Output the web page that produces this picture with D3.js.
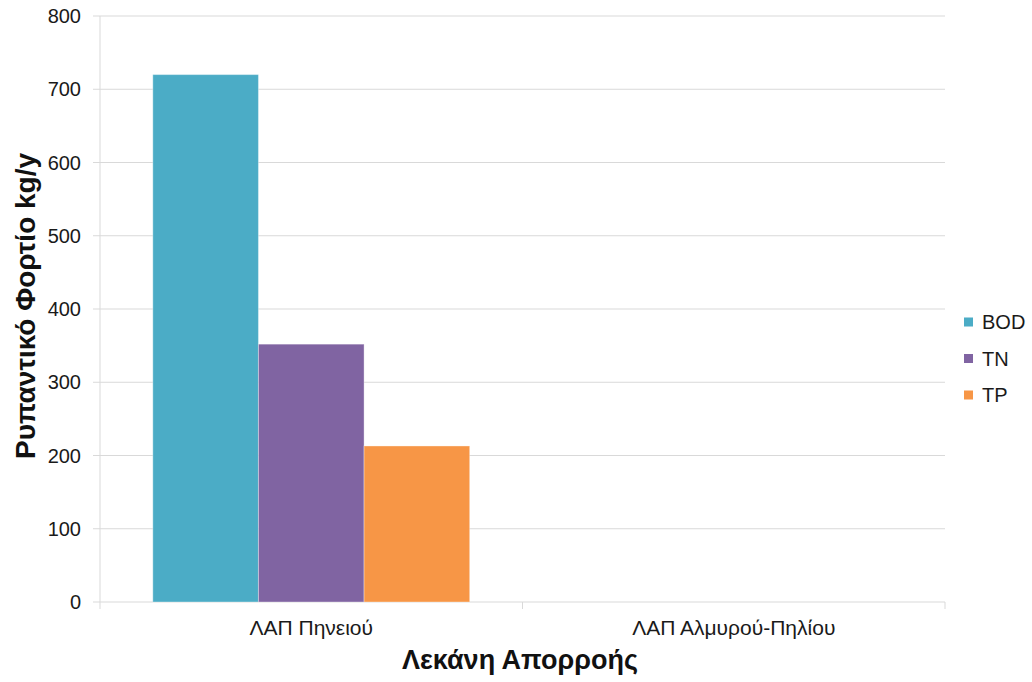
<!DOCTYPE html>
<html>
<head>
<meta charset="utf-8">
<script src="https://cdn.jsdelivr.net/npm/d3@7"></script>
<style>
  body { margin: 0; background: #fff; }
  svg { font-family: "Liberation Sans", Arial, sans-serif; }
</style>
</head>
<body>
<svg id="chart" width="1032" height="682"></svg>
<script>
// Pollutant loads per drainage basin
const categories = ["ΛΑΠ Πηνειού", "ΛΑΠ Αλμυρού-Πηλίου"];
const seriesNames = ["BOD", "TN", "TP"];
const bodValues = [720, 0];
const tnValues = [352, 0];
const tpValues = [213, 0];
const yTicks = [0, 100, 200, 300, 400, 500, 600, 700, 800];
const colors = ["#4bacc6", "#8064a2", "#f79646"];

const seriesValues = [bodValues, tnValues, tpValues];

const svg = d3.select("#chart");
const margin = { left: 100, right: 87, top: 16, bottom: 80 };
const W = 1032, H = 682;
const innerW = W - margin.left - margin.right;
const innerH = H - margin.top - margin.bottom;

const x0 = d3.scaleBand().domain(categories).range([0, innerW]).paddingInner(0).paddingOuter(0);
const x1 = d3.scaleBand().domain(seriesNames).range([x0.bandwidth() * 0.125, x0.bandwidth() * 0.875]).padding(0);
const y = d3.scaleLinear().domain([0, 800]).range([innerH, 0]);

const g = svg.append("g").attr("transform", `translate(${margin.left},${margin.top})`);

// horizontal gridlines with short ticks to the left
g.append("g").selectAll("line").data(yTicks).join("line")
  .attr("x1", -7).attr("x2", innerW)
  .attr("y1", d => y(d)).attr("y2", d => y(d))
  .attr("stroke", "#d9d9d9").attr("stroke-width", 1);

// y axis line
g.append("line").attr("x1", 0).attr("x2", 0).attr("y1", 0).attr("y2", innerH)
  .attr("stroke", "#d9d9d9");

// y tick labels
g.append("g").selectAll("text").data(yTicks).join("text")
  .attr("x", -19).attr("y", d => y(d)).attr("dy", "0.35em")
  .attr("text-anchor", "end").attr("font-size", 20).attr("fill", "#1a1a1a")
  .text(d => d);

// category boundary ticks below the baseline
const bounds = [0, ...categories.map(c => x0(c) + x0.bandwidth())];
g.append("g").selectAll("line").data(bounds).join("line")
  .attr("x1", d => d).attr("x2", d => d)
  .attr("y1", innerH).attr("y2", innerH + 7)
  .attr("stroke", "#d9d9d9");

// bars
categories.forEach((c, ci) => {
  seriesNames.forEach((s, si) => {
    const v = seriesValues[si][ci];
    if (v <= 0) return;
    g.append("rect")
      .attr("x", x0(c) + x1(s))
      .attr("y", y(v))
      .attr("width", x1.bandwidth())
      .attr("height", innerH - y(v))
      .attr("fill", colors[si])
      .attr("stroke", "#ffffff").attr("stroke-opacity", 0.35).attr("stroke-width", 1);
  });
});

// category labels (condensed face)
g.append("g").selectAll("text").data(categories).join("text")
  .attr("x", d => x0(d) + x0.bandwidth() / 2).attr("y", innerH + 33)
  .attr("text-anchor", "middle").attr("font-size", 21)
  .attr("font-family", "'Liberation Sans Narrow', 'Arial Narrow', sans-serif")
  .attr("fill", "#1a1a1a")
  .text(d => d);

// axis titles
svg.append("text")
  .attr("x", 520).attr("y", 669)
  .attr("text-anchor", "middle").attr("font-size", 27).attr("font-weight", "bold").attr("fill", "#111")
  .text("Λεκάνη Απορροής");

svg.append("text")
  .attr("transform", "translate(35,306) rotate(-90)")
  .attr("text-anchor", "middle").attr("font-size", 28).attr("font-weight", "bold").attr("fill", "#111")
  .text("Ρυπαντικό Φορτίο kg/y");

// legend
const legend = svg.append("g").attr("transform", "translate(964,322)");
seriesNames.forEach((s, i) => {
  const row = legend.append("g").attr("transform", `translate(0,${i * 36.5})`);
  row.append("rect").attr("x", 0).attr("y", -4.5).attr("width", 9).attr("height", 9).attr("fill", colors[i]);
  row.append("text").attr("x", 18).attr("y", 0).attr("dy", "0.35em")
    .attr("font-size", 20).attr("fill", "#1a1a1a").text(s);
});
</script>
</body>
</html>
